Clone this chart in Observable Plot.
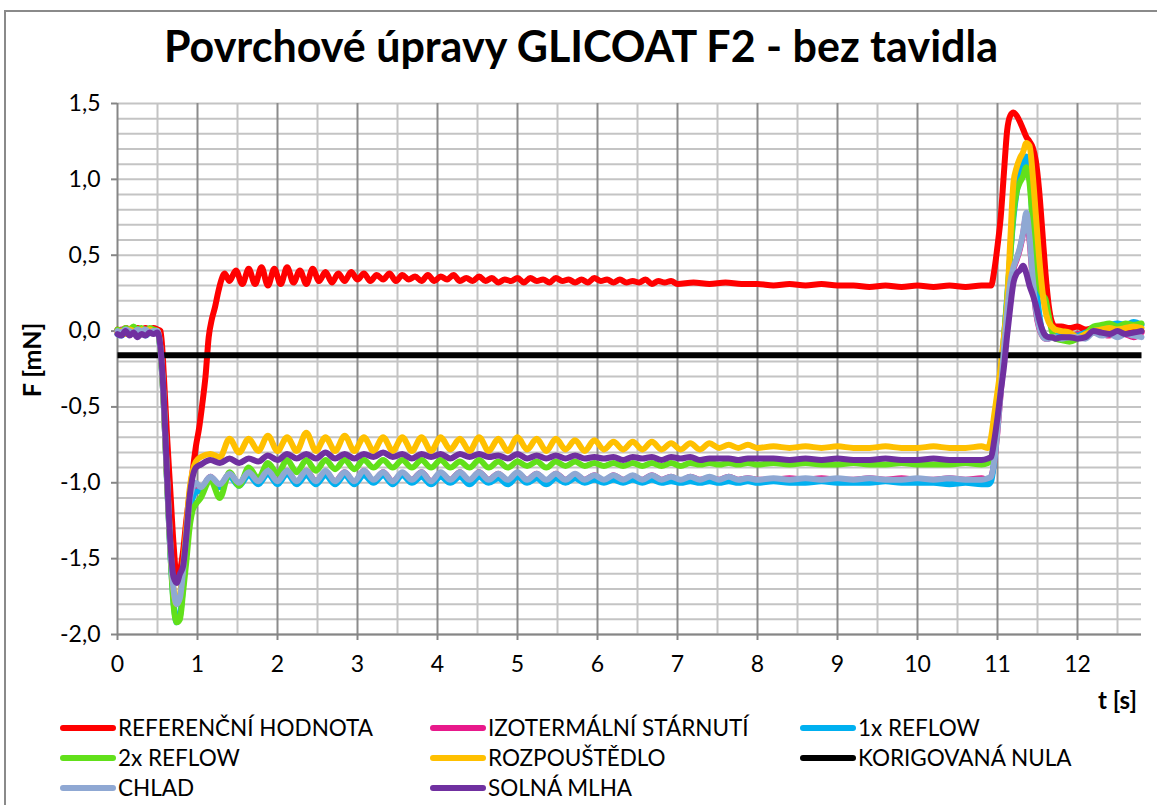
<!DOCTYPE html>
<html><head><meta charset="utf-8">
<script src="https://cdn.jsdelivr.net/npm/d3@7"></script>
<script src="https://cdn.jsdelivr.net/npm/@observablehq/plot@0.6"></script>
<style>
html,body{margin:0;padding:0;background:#fff;}
#wrap{position:relative;width:1157px;height:805px;overflow:hidden;background:#fff;font-family:Lato,"Open Sans",sans-serif;color:#000;}
#frame{position:absolute;left:4px;top:10px;width:1170px;height:820px;border:2px solid #8a8a8a;box-sizing:border-box;}
#chart{position:absolute;left:0;top:0;}
#title{position:absolute;left:0;top:24px;width:1162px;text-align:center;font-weight:bold;font-size:43px;line-height:1;white-space:nowrap;}
#ylab{position:absolute;left:31px;top:360px;transform:translate(-50%,-50%) rotate(-90deg);font-weight:bold;font-size:25px;line-height:1;white-space:nowrap;}
#xlab{position:absolute;left:1098px;top:688px;font-weight:bold;font-size:24px;line-height:1;white-space:nowrap;}
.li{position:absolute;height:26px;white-space:nowrap;font-size:22.5px;line-height:26px;}
.sw{position:absolute;left:0;top:10px;width:56px;height:6px;border-radius:3px;}
.lt{position:absolute;left:58px;top:0;}
</style></head><body>
<div id="wrap">
  <div id="frame"></div>
  <div id="chart"></div>
  <div id="title">Povrchové úpravy GLICOAT F2 - bez tavidla</div>
  <div id="ylab">F [mN]</div>
  <div id="xlab">t [s]</div>
  <div id="legend"></div>
</div>
<script>
// ---------- DATA ----------
const seriesNames = ["REFERENČNÍ HODNOTA","IZOTERMÁLNÍ STÁRNUTÍ","1x REFLOW","2x REFLOW","ROZPOUŠTĚDLO","KORIGOVANÁ NULA","CHLAD","SOLNÁ MLHA"];
const seriesColors = ["#ff0000","#e8198b","#00b0f0","#62e01a","#ffc000","#000000","#8fa8d3","#7030a0"];

const xTicks = [0,1,2,3,4,5,6,7,8,9,10,11,12];
const yTicks = [-2,-1.5,-1,-0.5,0,0.5,1,1.5];

// time samples [s] for the reference series
const tRef = [
  0,0.05,0.1,0.15,0.2,0.25,0.3,0.35,0.4,0.45,0.5,
  0.54,0.58,0.62,0.66,0.7,0.74,0.78,0.82,0.86,0.9,0.94,0.98,1.02,1.06,1.1,1.14,1.18,1.22,1.26,1.3,1.34,
  1.4,1.48,1.56,1.64,1.72,1.8,1.88,1.96,2.04,2.12,2.2,2.28,2.36,2.44,2.52,2.6,2.68,2.76,2.84,2.92,
  3,3.08,3.16,3.24,3.32,3.4,3.48,3.56,3.64,3.72,3.8,3.88,3.96,4.04,4.12,4.2,4.28,4.36,4.44,4.52,
  4.6,4.68,4.76,4.84,4.92,5,5.08,5.16,5.24,5.32,5.4,5.48,5.56,5.64,5.72,5.8,5.88,5.96,6.04,6.12,
  6.2,6.28,6.36,6.44,6.52,6.6,6.68,6.76,6.84,6.92,7,
  7.2,7.4,7.6,7.8,8,8.2,8.4,8.6,8.8,9,9.2,9.4,9.6,9.8,10,10.2,10.4,10.6,10.8,10.88,
  10.92,10.96,11,11.04,11.08,11.12,11.16,11.2,11.24,11.28,11.32,11.36,11.4,11.44,11.48,11.52,11.56,11.6,11.64,11.68,11.72,
  11.8,11.9,12,12.1,12.2,12.3,12.4,12.5,12.6,12.7,12.8
];
const fRef = [
  0.01,0,0.02,0.01,0,0.02,0.01,0.02,0.01,0.02,0.01,
  0,-0.3,-0.7,-1.05,-1.4,-1.62,-1.58,-1.45,-1.25,-1.08,-0.92,-0.76,-0.64,-0.48,-0.3,-0.04,0.08,0.16,0.26,0.34,0.38,
  0.33,0.4,0.31,0.41,0.31,0.42,0.3,0.41,0.31,0.42,0.32,0.4,0.31,0.41,0.33,0.39,0.32,0.38,0.33,0.39,
  0.34,0.38,0.33,0.37,0.34,0.38,0.33,0.37,0.34,0.36,0.33,0.37,0.33,0.36,0.34,0.37,0.33,0.35,0.33,0.36,
  0.33,0.35,0.32,0.34,0.33,0.35,0.32,0.35,0.33,0.34,0.32,0.35,0.33,0.34,0.32,0.34,0.32,0.35,0.33,0.34,
  0.32,0.34,0.32,0.33,0.32,0.34,0.31,0.33,0.32,0.33,0.31,
  0.32,0.31,0.32,0.31,0.31,0.3,0.31,0.3,0.31,0.3,0.3,0.29,0.3,0.29,0.3,0.29,0.3,0.29,0.3,0.3,
  0.3,0.4,0.56,0.75,1.04,1.32,1.42,1.44,1.42,1.38,1.33,1.28,1.25,1.21,1.12,0.93,0.66,0.38,0.17,0.06,0.03,
  0.03,0.02,0.03,0.01,0.02,0.01,0.02,0.01,0,0.01,0
];

// time samples [s] shared by the treated samples
const tLow = [
  0,0.05,0.1,0.15,0.2,0.25,0.3,0.35,0.4,0.45,0.5,
  0.54,0.58,0.62,0.66,0.7,0.74,0.78,0.82,0.86,0.9,0.94,0.98,
  1.04,1.16,1.28,1.4,1.52,1.64,1.76,1.88,2,2.12,2.24,2.36,2.48,2.6,2.72,2.84,2.96,3.08,3.2,3.32,3.44,3.56,
  3.68,3.8,3.92,4.04,4.16,4.28,4.4,4.52,4.64,4.76,4.88,5,5.12,5.24,5.36,5.48,5.6,5.72,5.84,5.96,6.08,6.2,
  6.32,6.44,6.56,6.68,6.8,6.92,7.04,7.16,7.28,7.4,7.52,7.64,7.76,7.88,8,
  8.2,8.4,8.6,8.8,9,9.2,9.4,9.6,9.8,10,10.2,10.4,10.6,10.8,10.88,
  10.92,10.96,11,11.04,11.08,11.12,11.16,11.2,11.24,11.28,11.32,11.36,11.4,11.44,11.48,11.52,11.56,11.6,11.64,11.68,11.72,
  11.8,11.9,12,12.1,12.2,12.3,12.4,12.5,12.6,12.7,12.8
];
const fIzo = [
  0,0.01,0,-0.01,0.01,0,0.01,0,0.01,0.01,0,
  -0.14,-0.5,-0.99,-1.43,-1.72,-1.8,-1.77,-1.6,-1.37,-1.13,-1.04,-1.01,
  -1.04,-0.96,-1.02,-0.94,-1.01,-0.93,-0.99,-0.93,-0.99,-0.92,-1,-0.92,-0.99,-0.93,-0.99,-0.93,-1,-0.92,-0.99,-0.93,
  -0.99,-0.94,-0.98,-0.93,-0.99,-0.94,-0.98,-0.93,-0.99,-0.93,-0.98,-0.94,-0.99,-0.94,-0.98,-0.94,-0.99,-0.94,-0.98,-0.95,
  -0.98,-0.95,-0.99,-0.95,-0.98,-0.96,-0.98,-0.95,-0.98,-0.96,-0.99,-0.96,-0.98,-0.97,-0.98,-0.96,-0.98,-0.97,-0.98,
  -0.98,-0.97,-0.98,-0.97,-0.98,-0.98,-0.97,-0.98,-0.97,-0.98,-0.98,-0.97,-0.98,-0.97,-0.98,
  -0.96,-0.86,-0.66,-0.41,-0.13,0.11,0.31,0.41,0.47,0.54,0.64,0.76,0.6,0.34,0.13,0.02,-0.03,-0.05,-0.05,-0.04,-0.04,
  -0.03,-0.04,-0.02,-0.03,-0.01,-0.02,-0.03,0,-0.02,-0.04,-0.01
];
const fRef1 = [
  -0.02,-0.03,-0.01,-0.02,0,-0.02,-0.01,-0.03,-0.01,0,-0.01,
  -0.15,-0.5,-1,-1.45,-1.78,-1.92,-1.88,-1.68,-1.42,-1.2,-1.1,-1.06,
  -1.05,-0.98,-1.03,-0.96,-1.02,-0.95,-1.01,-0.94,-1.01,-0.94,-1.01,-0.95,-1.01,-0.95,-1.01,-0.95,-1.01,-0.95,-1,-0.95,
  -1.01,-0.95,-1,-0.96,-1.01,-0.96,-1,-0.96,-1.01,-0.96,-1,-0.97,-1.01,-0.96,-1,-0.97,-1.01,-0.97,-1,-0.97,
  -1,-0.98,-1,-0.98,-1,-0.98,-1,-0.98,-1,-0.99,-1,-0.99,-1,-0.99,-1,-0.99,-1,-0.99,-1,
  -0.99,-1,-1,-0.99,-1,-1,-1,-0.99,-1,-1,-1,-1.01,-1,-1.01,-1.01,
  -0.99,-0.85,-0.6,-0.32,-0.05,0.22,0.5,0.75,0.92,1.03,1.1,1.15,1.05,0.7,0.35,0.12,0,-0.03,-0.04,-0.04,-0.03,
  -0.04,-0.03,-0.03,-0.01,0,0.03,0.04,0.05,0.04,0.06,0.04
];
const fRef2 = [
  0.01,0,0.02,0.01,0.03,0.01,0.02,0,0.02,0.01,0,
  -0.15,-0.5,-1,-1.45,-1.8,-1.92,-1.9,-1.72,-1.52,-1.3,-1.18,-1.14,
  -1.1,-0.98,-1.1,-0.93,-1.02,-0.9,-0.97,-0.87,-0.94,-0.85,-0.93,-0.85,-0.92,-0.85,-0.91,-0.85,-0.91,-0.85,-0.9,-0.85,
  -0.9,-0.85,-0.9,-0.85,-0.9,-0.85,-0.9,-0.86,-0.9,-0.85,-0.9,-0.86,-0.9,-0.86,-0.89,-0.86,-0.9,-0.86,-0.89,-0.86,
  -0.89,-0.87,-0.89,-0.87,-0.89,-0.87,-0.89,-0.87,-0.89,-0.87,-0.89,-0.87,-0.88,-0.87,-0.88,-0.87,-0.88,-0.87,-0.88,
  -0.87,-0.88,-0.87,-0.88,-0.88,-0.87,-0.88,-0.88,-0.87,-0.88,-0.88,-0.88,-0.87,-0.88,-0.87,
  -0.84,-0.7,-0.5,-0.28,-0.05,0.2,0.5,0.78,0.92,0.98,1.02,1.08,0.98,0.72,0.45,0.3,0.24,0.21,0.1,0,-0.05,
  -0.06,-0.07,-0.05,-0.02,0.03,0.04,0.05,0.03,0.05,0.04,0.05
];
const fRozp = [
  -0.01,0,-0.02,0.01,0,-0.01,0.01,0,0.01,0,0,
  -0.13,-0.48,-0.97,-1.4,-1.7,-1.8,-1.74,-1.55,-1.3,-1.05,-0.92,-0.86,
  -0.83,-0.81,-0.83,-0.71,-0.8,-0.71,-0.79,-0.69,-0.79,-0.7,-0.79,-0.67,-0.79,-0.7,-0.79,-0.69,-0.79,-0.7,-0.79,-0.7,
  -0.79,-0.7,-0.79,-0.7,-0.79,-0.7,-0.78,-0.71,-0.79,-0.7,-0.79,-0.71,-0.79,-0.7,-0.78,-0.71,-0.79,-0.71,-0.78,-0.72,
  -0.79,-0.72,-0.78,-0.73,-0.78,-0.73,-0.78,-0.73,-0.78,-0.74,-0.78,-0.74,-0.78,-0.74,-0.77,-0.75,-0.77,-0.75,-0.77,
  -0.76,-0.77,-0.76,-0.77,-0.76,-0.77,-0.77,-0.76,-0.77,-0.77,-0.76,-0.77,-0.77,-0.76,-0.77,
  -0.7,-0.55,-0.4,-0.24,-0.04,0.18,0.6,0.98,1.08,1.14,1.18,1.24,1.22,1.03,0.76,0.49,0.27,0.13,0.06,0.03,0.01,
  0,-0.01,-0.04,-0.02,0,0.01,0.02,0.01,0.02,0.03,0.02
];
const fChlad = [
  0,-0.01,0.01,0,-0.01,0.01,0,0.01,-0.01,0,0,
  -0.14,-0.49,-0.98,-1.42,-1.7,-1.8,-1.76,-1.58,-1.36,-1.12,-1.03,-1,
  -1.03,-0.96,-1.01,-0.94,-1,-0.93,-0.99,-0.92,-0.99,-0.92,-0.99,-0.92,-0.99,-0.92,-0.99,-0.93,-0.99,-0.92,-0.98,-0.93,
  -0.99,-0.93,-0.98,-0.93,-0.99,-0.93,-0.98,-0.93,-0.98,-0.93,-0.98,-0.94,-0.98,-0.93,-0.98,-0.94,-0.98,-0.94,-0.98,-0.94,
  -0.98,-0.95,-0.98,-0.95,-0.98,-0.95,-0.98,-0.95,-0.98,-0.96,-0.98,-0.96,-0.98,-0.96,-0.98,-0.96,-0.98,-0.97,-0.98,
  -0.97,-0.98,-0.97,-0.98,-0.97,-0.98,-0.97,-0.98,-0.98,-0.97,-0.98,-0.97,-0.98,-0.98,-0.97,
  -0.96,-0.85,-0.65,-0.4,-0.12,0.12,0.32,0.42,0.48,0.55,0.65,0.78,0.62,0.35,0.14,0.03,-0.03,-0.05,-0.05,-0.04,-0.04,
  -0.05,-0.04,-0.04,-0.05,-0.01,-0.03,-0.02,-0.04,-0.02,-0.03,-0.04
];
const fSolna = [
  -0.02,-0.03,0,-0.03,-0.01,-0.04,-0.02,-0.03,-0.01,-0.02,-0.01,
  -0.12,-0.45,-0.95,-1.38,-1.62,-1.66,-1.6,-1.55,-1.35,-1.1,-0.96,-0.9,
  -0.88,-0.85,-0.87,-0.84,-0.87,-0.84,-0.86,-0.82,-0.85,-0.81,-0.84,-0.81,-0.84,-0.8,-0.84,-0.81,-0.84,-0.81,-0.83,-0.8,
  -0.83,-0.81,-0.84,-0.81,-0.83,-0.81,-0.84,-0.81,-0.83,-0.81,-0.83,-0.82,-0.84,-0.81,-0.84,-0.82,-0.84,-0.82,-0.84,-0.82,
  -0.84,-0.83,-0.84,-0.83,-0.85,-0.83,-0.84,-0.83,-0.85,-0.83,-0.84,-0.83,-0.85,-0.84,-0.84,-0.84,-0.85,-0.84,-0.84,
  -0.84,-0.85,-0.84,-0.85,-0.84,-0.85,-0.85,-0.84,-0.85,-0.85,-0.84,-0.85,-0.85,-0.85,-0.84,
  -0.83,-0.72,-0.57,-0.4,-0.24,-0.03,0.16,0.32,0.38,0.4,0.43,0.38,0.3,0.24,0.17,0.08,0.01,-0.03,-0.04,-0.04,-0.05,
  -0.04,-0.04,-0.05,-0.04,0,-0.01,-0.02,0,-0.02,-0.01,0
];
// corrected zero (constant)
const tNula = [0, 12.8];
const fNula = [-0.16, -0.16];

// ---------- BUILD ----------
const seriesT = [tRef, tLow, tLow, tLow, tLow, tNula, tLow, tLow];
const seriesF = [fRef, fIzo, fRef1, fRef2, fRozp, fNula, fChlad, fSolna];
seriesF.forEach((f, i) => {
  if (f.length !== seriesT[i].length) throw new Error(seriesNames[i] + " length " + f.length + " vs " + seriesT[i].length);
});
const seriesData = seriesF.map((f, i) => f.map((v, j) => ({t: seriesT[i][j], f: v})));

const hMinor = d3.range(-20, 16).map(i => i / 10);
const vMinor = d3.range(1, 26, 2).map(i => i / 2);
const vMajor = xTicks.slice(1);

const fmt = d => d.toFixed(1).replace(".", ",");

const lineMarks = seriesData.map((data, i) => Plot.line(data, {
  x: "t", y: "f", stroke: seriesColors[i], curve: "monotone-x",
  strokeWidth: 6, strokeLinejoin: "round", strokeLinecap: i === 5 ? "butt" : "round"
}));

const chart = Plot.plot({
  width: 1157, height: 805,
  marginLeft: 117, marginRight: 16, marginTop: 103, marginBottom: 171,
  x: {domain: [0, 12.8]},
  y: {domain: [-2, 1.5]},
  style: {fontFamily: "Lato, 'Open Sans', sans-serif", fontSize: "23px", background: "transparent", color: "#000"},
  marks: [
    Plot.ruleY(hMinor, {stroke: "#c4c4c4", strokeWidth: 2}),
    Plot.ruleX(vMinor, {stroke: "#c4c4c4", strokeWidth: 2}),
    Plot.ruleX(vMajor, {stroke: "#8c8c8c", strokeWidth: 2}),
    Plot.axisX({ticks: xTicks, tickFormat: d => String(d), tickSize: 6, tickPadding: 15, stroke: "#868686", strokeWidth: 2, fill: "#000", fontSize: 23, label: null}),
    Plot.axisY({ticks: yTicks, tickFormat: fmt, tickSize: 6, tickPadding: 11, stroke: "#868686", strokeWidth: 2, fill: "#000", fontSize: 23, label: null}),
    Plot.ruleX([0], {stroke: "#868686", strokeWidth: 2}),
    Plot.ruleY([-2], {stroke: "#868686", strokeWidth: 2}),
    ...lineMarks
  ]
});
document.getElementById("chart").appendChild(chart);

// ---------- LEGEND ----------
const legendCols = [60, 430, 800];
const legendRows = [715, 745, 775];
const legend = document.getElementById("legend");
seriesNames.forEach((name, i) => {
  const item = document.createElement("div");
  item.className = "li";
  item.style.left = legendCols[i % 3] + "px";
  item.style.top = legendRows[Math.floor(i / 3)] + "px";
  const sw = document.createElement("div");
  sw.className = "sw";
  sw.style.background = seriesColors[i];
  const tx = document.createElement("div");
  tx.className = "lt";
  tx.textContent = name;
  item.appendChild(sw); item.appendChild(tx);
  legend.appendChild(item);
});
</script>
</body></html>
